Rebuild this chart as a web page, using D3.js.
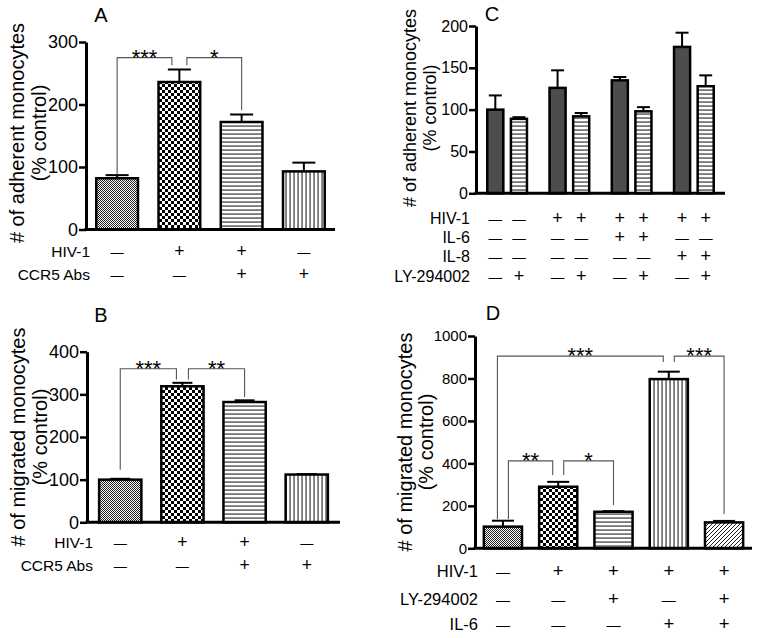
<!DOCTYPE html>
<html lang="en">
<head>
<meta charset="UTF-8">
<title>Monocyte adhesion and migration</title>
<script src="https://cdn.jsdelivr.net/npm/d3@7"></script>
<style>
  body { margin: 0; background: #fff; }
  svg { display: block; font-family: Arial, "Liberation Sans", sans-serif; }
</style>
</head>
<body>
<svg id="fig" width="762" height="638"></svg>
<script>
// ---- data ----
// A: adherent monocytes, CCR5 antibodies
const valuesA = [82, 236, 172, 93]
const semA = [5, 20, 12, 14]
const ticksA = [0, 100, 200, 300]
const rowsA = ["HIV-1", "CCR5 Abs"]
const signsA = [["-", "+", "+", "-"], ["-", "-", "+", "+"]]
const bracketsA = [
  {from: 0, to: 1, label: "***", top: 275, fromEnd: 88, toEnd: 263},
  {from: 1, to: 2, label: "*", top: 275, fromEnd: 263, toEnd: 191}
]

// B: migrated monocytes, CCR5 antibodies
const valuesB = [100, 319, 282, 112]
const semB = [2, 8, 4, 1]
const ticksB = [0, 100, 200, 300, 400]
const rowsB = ["HIV-1", "CCR5 Abs"]
const signsB = [["-", "+", "+", "-"], ["-", "-", "+", "+"]]
const bracketsB = [
  {from: 0, to: 1, label: "***", top: 360, fromEnd: 123, toEnd: 335},
  {from: 1, to: 2, label: "**", top: 360, fromEnd: 335, toEnd: 294}
]

// C: adherent monocytes, IL-6 / IL-8 / LY-294002
const valuesC = [100, 89, 126, 92, 135, 98, 175, 128]
const semC = [17, 2, 21, 4, 4, 5, 17, 13]
const ticksC = [0, 50, 100, 150, 200]
const rowsC = ["HIV-1", "IL-6", "IL-8", "LY-294002"]
const signsC = [
  ["-", "-", "+", "+", "+", "+", "+", "+"],
  ["-", "-", "-", "-", "+", "+", "-", "-"],
  ["-", "-", "-", "-", "-", "-", "+", "+"],
  ["-", "+", "-", "+", "-", "+", "-", "+"]
]

// D: migrated monocytes, LY-294002 / IL-6
const valuesD = [102, 290, 172, 797, 122]
const semD = [28, 23, 3, 35, 7]
const ticksD = [0, 200, 400, 600, 800, 1000]
const rowsD = ["HIV-1", "LY-294002", "IL-6"]
const signsD = [
  ["-", "+", "+", "+", "+"],
  ["-", "-", "+", "-", "+"],
  ["-", "-", "-", "+", "+"]
]
const bracketsD = [
  {from: 0, to: 3, label: "***", top: 905, fromEnd: 138, toEnd: 878},
  {from: 3, to: 4, label: "***", top: 905, fromEnd: 878, toEnd: 161},
  {from: 0, to: 1, label: "**", top: 412, fromEnd: 138, toEnd: 345},
  {from: 1, to: 2, label: "*", top: 412, fromEnd: 345, toEnd: 204}
]

const svg = d3.select("#fig")
svg.append("rect").attr("width", 762).attr("height", 638).attr("fill", "#fff")

// fill patterns
const defs = svg.append("defs")
function pattern(id, w, h) {
  const p = defs.append("pattern").attr("id", id).attr("patternUnits", "userSpaceOnUse")
    .attr("width", w).attr("height", h)
  p.append("rect").attr("width", w).attr("height", h).attr("fill", "#fff")
  return p
}
let p = pattern("fine", 2, 2)
p.append("rect").attr("width", 1).attr("height", 1).attr("fill", "#222")
p.append("rect").attr("x", 1).attr("y", 1).attr("width", 1).attr("height", 1).attr("fill", "#222")
p = pattern("check", 6, 6)
p.append("rect").attr("width", 3).attr("height", 3).attr("fill", "#000")
p.append("rect").attr("x", 3).attr("y", 3).attr("width", 3).attr("height", 3).attr("fill", "#000")
p = pattern("hlines", 4, 4)
p.append("rect").attr("y", 1.5).attr("width", 4).attr("height", 1.1).attr("fill", "#222")
p = pattern("vlines", 4, 4)
p.append("rect").attr("x", 1.5).attr("width", 1.1).attr("height", 4).attr("fill", "#222")
p = pattern("diag", 4, 4)
p.append("path").attr("d", "M-1,1 l2,-2 M0,4 l4,-4 M3,5 l2,-2").attr("stroke", "#222").attr("stroke-width", 1)

function drawPanel(c) {
  const L = c.layout
  const g = svg.append("g")
  const y = d3.scaleLinear().domain([0, c.max]).range([L.y0, L.y1])

  // bar positions (optionally in pairs)
  let barX, bw
  if (L.pairs) {
    const xg = d3.scaleBand().domain(d3.range(c.values.length / 2)).range([L.x0, L.x1])
    const xs = d3.scaleBand().domain([0, 1]).range([0, xg.step()]).paddingInner(L.pi).paddingOuter(L.po)
    barX = i => xg(Math.floor(i / 2)) + xs(i % 2)
    bw = xs.bandwidth()
  } else {
    const x = d3.scaleBand().domain(d3.range(c.values.length)).range([L.x0, L.x1])
      .paddingInner(L.pi).paddingOuter(L.po)
    barX = i => x(i)
    bw = x.bandwidth()
  }
  const cx = i => barX(i) + bw / 2

  // significance brackets
  if (c.brackets) {
    const legs = []
    c.brackets.forEach((b, k) => {
      legs.push({k, bar: b.from, dir: 1, top: b.top, end: b.fromEnd})
      legs.push({k, bar: b.to, dir: -1, top: b.top, end: b.toEnd})
    })
    d3.group(legs, d => d.bar).forEach(list => {
      list.sort((a, b) => a.dir - b.dir || b.top - a.top)
      list.forEach((l, j) => l.x = cx(l.bar) + (j - (list.length - 1) / 2) * L.legGap)
    })
    c.brackets.forEach((b, k) => {
      const [a, z] = legs.filter(l => l.k === k)
      g.append("path")
        .attr("d", `M${a.x},${y(a.end)}V${y(b.top)}H${z.x}V${y(z.end)}`)
        .attr("fill", "none").attr("stroke", "#555").attr("stroke-width", 1.1)
      g.append("text").attr("x", (a.x + z.x) / 2).attr("y", y(b.top) + 7)
        .attr("text-anchor", "middle").attr("font-size", 22).text(b.label)
    })
  }

  // error bars (upper half only)
  const eb = g.append("g").attr("stroke", "#000").attr("stroke-width", 2)
  c.values.forEach((v, i) => {
    const top = y(v + c.sem[i])
    eb.append("line").attr("x1", cx(i)).attr("x2", cx(i)).attr("y1", y(v)).attr("y2", top)
    eb.append("line").attr("x1", cx(i) - L.cap / 2).attr("x2", cx(i) + L.cap / 2).attr("y1", top).attr("y2", top)
  })

  // bars
  g.append("g").selectAll("rect").data(c.values).join("rect")
    .attr("x", (d, i) => barX(i)).attr("y", d => y(d))
    .attr("width", bw).attr("height", d => y(0) - y(d))
    .attr("fill", (d, i) => c.fills[i % c.fills.length])
    .attr("stroke", "#000").attr("stroke-width", 2.5)

  // axes
  const ax = g.append("g").attr("transform", `translate(${L.x0},0)`)
    .call(d3.axisLeft(y).tickValues(c.ticks).tickFormat(d3.format("d"))
      .tickSize(7).tickSizeOuter(0).tickPadding(1))
  ax.select(".domain").attr("stroke-width", 3)
  ax.selectAll(".tick line").attr("stroke-width", 2.5)
  ax.selectAll(".tick text").attr("font-size", L.tickFont).attr("fill", "#000")
    .attr("font-family", "Arial, 'Liberation Sans', sans-serif")
  g.append("line").attr("x1", L.x0 - 1.5).attr("x2", L.x1).attr("y1", y(0)).attr("y2", y(0))
    .attr("stroke", "#000").attr("stroke-width", 3)

  // y label, two lines
  c.yLabel.forEach((t, j) => {
    g.append("text").attr("transform", `translate(${L.labelX[j]},${L.labelY}) rotate(-90)`)
      .attr("text-anchor", "middle").attr("font-size", L.labelFont).text(t)
  })

  // panel letter
  g.append("text").attr("x", L.letter[0]).attr("y", L.letter[1])
    .attr("text-anchor", "middle").attr("font-size", 20).text(c.id)

  // treatment rows
  c.rows.forEach((r, j) => {
    g.append("text").attr("x", L.rowX).attr("y", L.rowY[j]).attr("text-anchor", "end")
      .attr("font-size", L.rowFont).text(r)
    c.signs[j].forEach((s, i) => {
      g.append("text").attr("x", cx(i)).attr("y", L.rowY[j]).attr("text-anchor", "middle")
        .attr("font-size", s === "+" ? L.rowFont + 2 : L.rowFont * 0.85)
        .text(s === "+" ? "+" : "\u2014")
    })
  })
}

drawPanel({
  id: "A", values: valuesA, sem: semA, ticks: ticksA, max: 300,
  rows: rowsA, signs: signsA, brackets: bracketsA,
  yLabel: ["# of adherent monocytes", "(% control)"],
  fills: ["url(#fine)", "url(#check)", "url(#hlines)", "url(#vlines)"],
  layout: {x0: 86, x1: 335, y0: 229.5, y1: 42, pi: 0.33, po: 0.165, cap: 23, legGap: 15,
    tickFont: 18, labelFont: 20, labelX: [24, 46], labelY: 133, letter: [101, 22],
    rowX: 90, rowY: [257, 280], rowFont: 15.5}
})

drawPanel({
  id: "B", values: valuesB, sem: semB, ticks: ticksB, max: 400,
  rows: rowsB, signs: signsB, brackets: bracketsB,
  yLabel: ["# of migrated monocytes", "(% control)"],
  fills: ["url(#fine)", "url(#check)", "url(#hlines)", "url(#vlines)"],
  layout: {x0: 87, x1: 340, y0: 522.3, y1: 351.7, pi: 0.32, po: 0.195, cap: 20, legGap: 12,
    tickFont: 18, labelFont: 20, labelX: [25, 47], labelY: 437, letter: [101, 322],
    rowX: 93, rowY: [548, 571], rowFont: 15.5}
})

drawPanel({
  id: "C", values: valuesC, sem: semC, ticks: ticksC, max: 200,
  rows: rowsC, signs: signsC, brackets: null,
  yLabel: ["# of adherent monocytes", "(% control)"],
  fills: ["#4d4d4d", "url(#hlines)"],
  layout: {x0: 476, x1: 725, y0: 193.3, y1: 26, pairs: true, pi: 0.32, po: 0.478, cap: 13, legGap: 12,
    tickFont: 16, labelFont: 18, labelX: [416, 436], labelY: 108, letter: [492, 21],
    rowX: 470, rowY: [224, 243, 262, 282], rowFont: 16}
})

drawPanel({
  id: "D", values: valuesD, sem: semD, ticks: ticksD, max: 1000,
  rows: rowsD, signs: signsD, brackets: bracketsD,
  yLabel: ["# of migrated monocytes", "(% control)"],
  fills: ["url(#fine)", "url(#check)", "url(#hlines)", "url(#vlines)", "url(#diag)"],
  layout: {x0: 475, x1: 752, y0: 548.3, y1: 336, pi: 0.31, po: 0.16, cap: 22, legGap: 11,
    tickFont: 15, labelFont: 20, labelX: [412, 433], labelY: 442, letter: [493, 320],
    rowX: 478, rowY: [577, 605, 630], rowFont: 16.5}
})
</script>
</body>
</html>
